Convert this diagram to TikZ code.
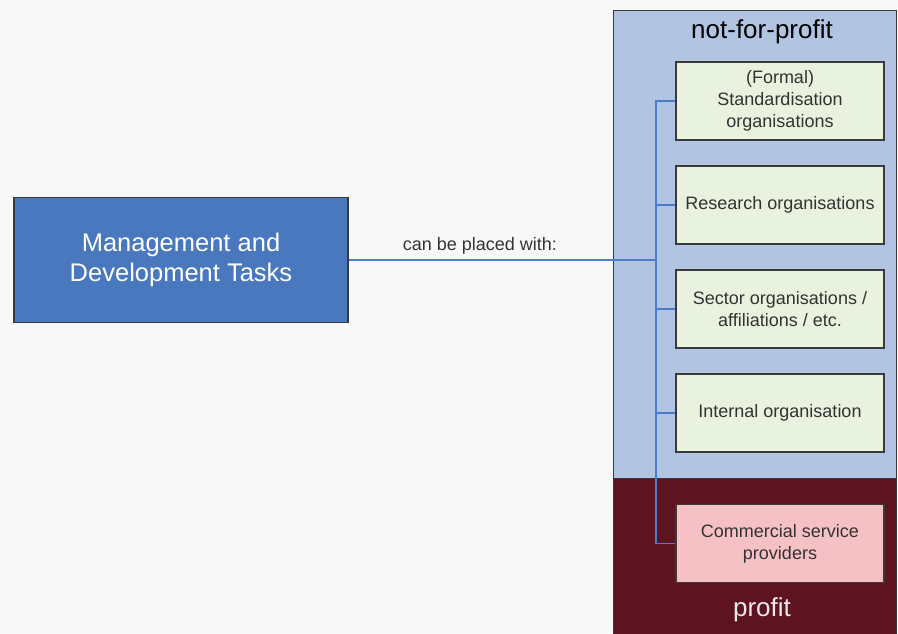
\documentclass[tikz,border=0pt]{standalone}
\usepackage{fontspec}
\setmainfont{Liberation Sans}
\definecolor{bgray}{HTML}{F8F8F8}
\definecolor{panelblue}{HTML}{B1C5E3}
\definecolor{paneldark}{HTML}{5E1320}
\definecolor{taskblue}{HTML}{4A78BE}
\definecolor{linkblue}{HTML}{4B7DCA}
\definecolor{orggreen}{HTML}{E9F2DE}
\definecolor{orgpink}{HTML}{F5C1C5}
\definecolor{edgegray}{HTML}{3A3A3A}
\tikzset{
  org/.style={draw=edgegray,line width=1.2pt,minimum width=208pt,minimum height=78pt,
    align=center,text=black!80,font=\fontsize{18}{22}\selectfont},
  link/.style={draw=linkblue,line width=1.2pt}
}
\begin{document}
\begin{tikzpicture}[x=1pt,y=-1pt]
        \useasboundingbox (0,0) rectangle (898,633);
        \fill[bgray] (0,0) rectangle (898,633);

        % panels
        \filldraw[fill=panelblue,draw=edgegray,line width=1pt] (613,10) rectangle (896,478);
        \filldraw[fill=paneldark,draw=edgegray,line width=1pt] (613,478) rectangle (896,640);
        \node (np) at (762,32) {\fontsize{26}{30}\selectfont not-for-profit};
        \node[text=white!92!black] (pr) at (762,610) {\fontsize{26}{30}\selectfont profit};

        \node[draw=edgegray,line width=1.2pt,fill=taskblue,text=white,minimum width=334pt,
          minimum height=125pt,align=center,font=\fontsize{25.5}{30}\selectfont]
          (tasks) at (181,260) {Management and\\Development Tasks};

        \begin{scope}[every node/.style={org,fill=orggreen}]
          \node (std) at (780,101) {(Formal)\\Standardisation\\organisations};
          \node (res) at (780,205) {Research organisations};
          \node (sec) at (780,309) {Sector organisations /\\affiliations / etc.};
          \node (int) at (780,413) {Internal organisation};
        \end{scope}
        \node[org,fill=orgpink] (com) at (780,543.5) {Commercial service\\providers};

        \coordinate (bus) at (656,260);
        \draw[link] (tasks.east) -- node[pos=.427,above=2pt,text=black!80,font=\fontsize{18}{22}\selectfont] {can be placed with:} (bus);
        \begin{scope}[every path/.style={link}]
          \draw (bus) |- (std.west);
          \draw (bus) |- (res.west);
          \draw (bus) |- (sec.west);
          \draw (bus) |- (int.west);
          \draw (bus) |- (com.west);
        \end{scope}

      \end{tikzpicture}
\end{document}
